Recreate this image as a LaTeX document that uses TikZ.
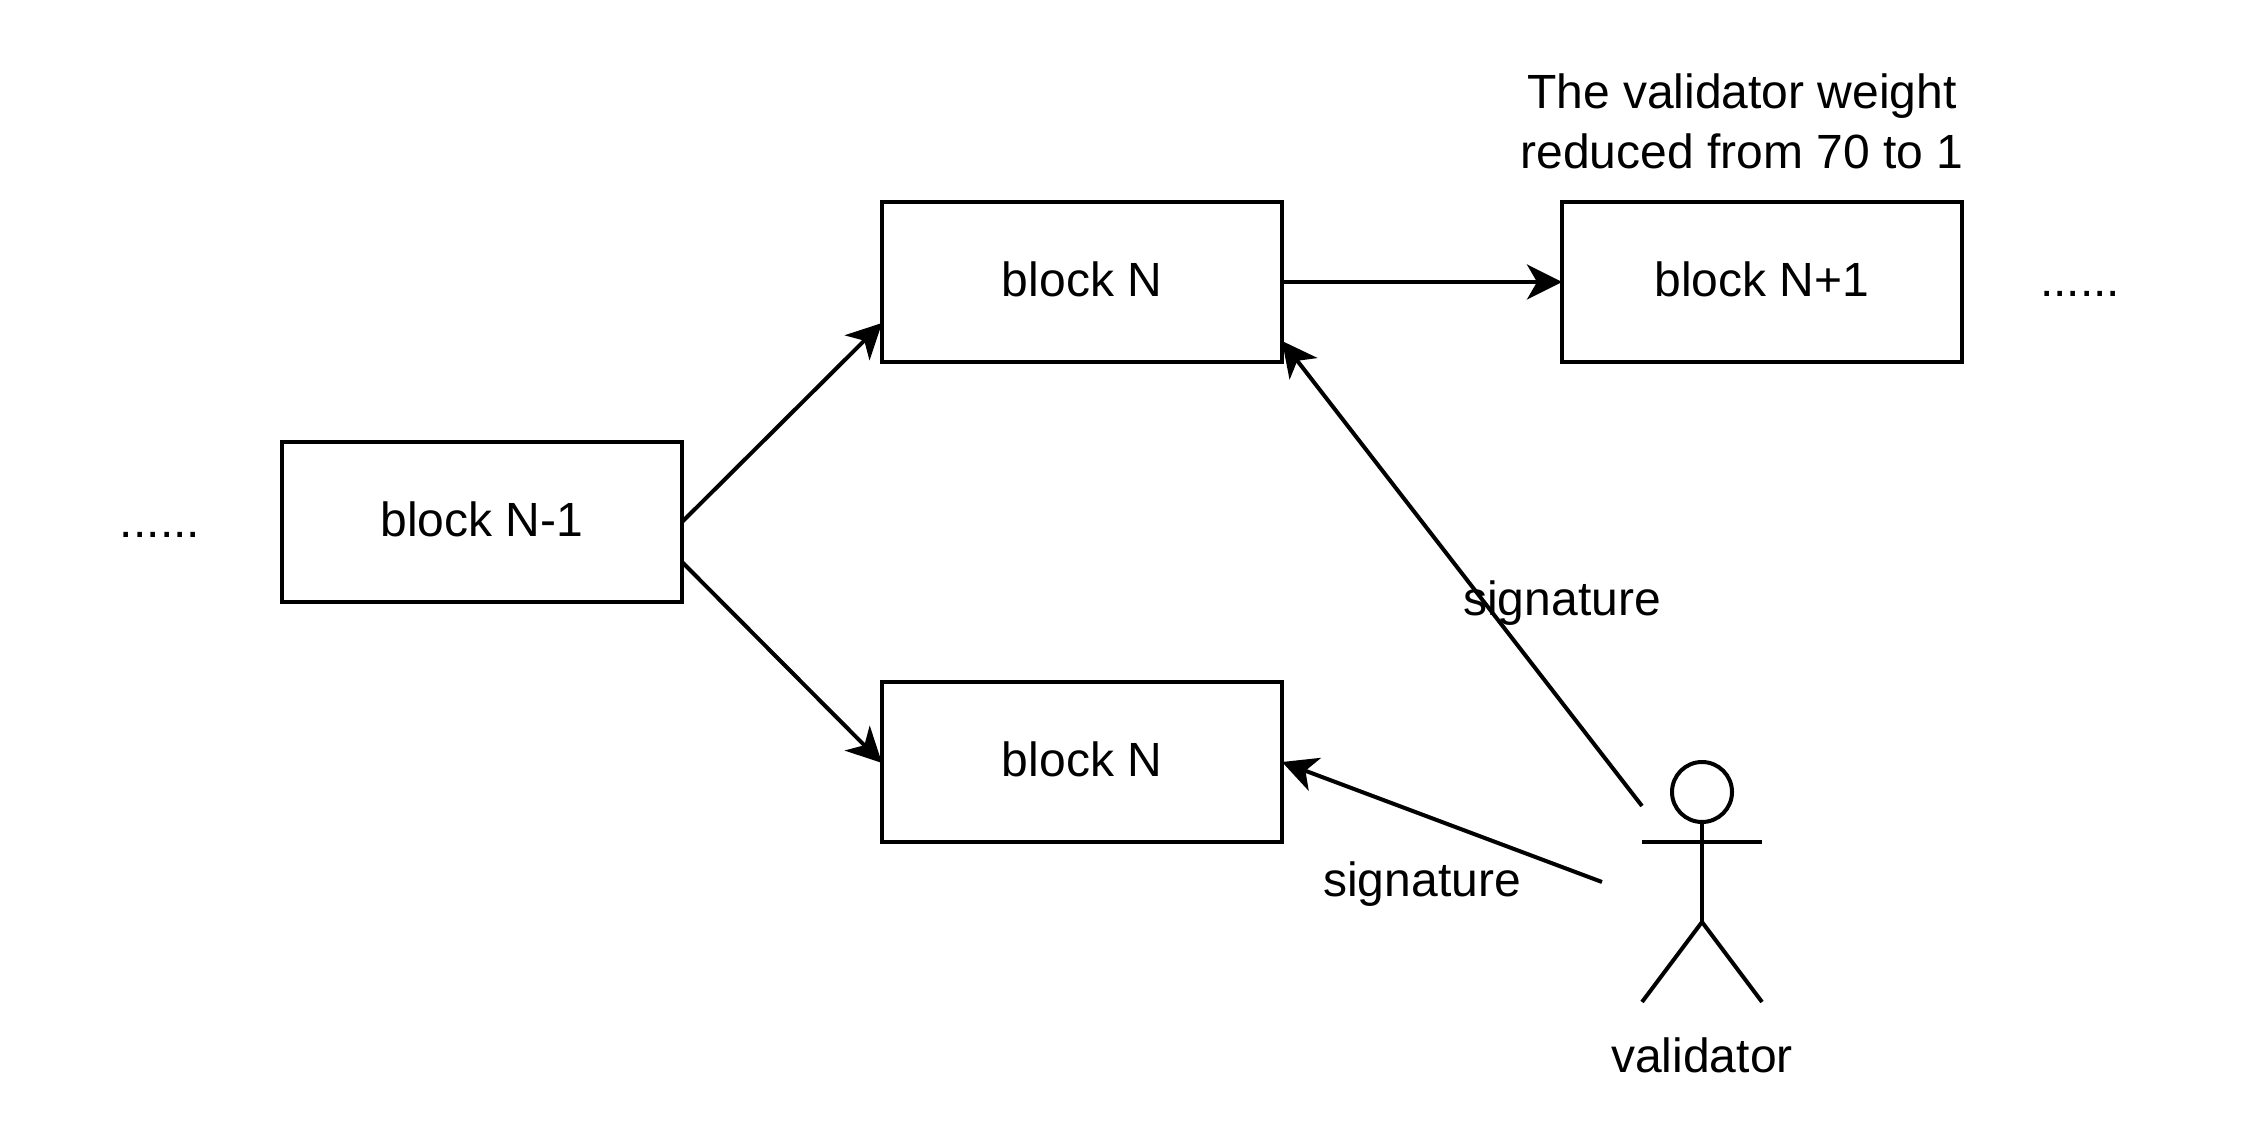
\documentclass[tikz,border=0pt]{standalone}
\usepackage{fontspec}
\setmainfont{Liberation Sans}
\usetikzlibrary{arrows.meta}
\tikzset{
  blockbox/.style={draw=black,line width=2pt,fill=white,minimum width=200pt,minimum height=80pt,inner sep=0pt,outer sep=0pt,text depth=3pt,font=\fontsize{24pt}{30pt}\selectfont},
  plain/.style={inner sep=0pt,outer sep=0pt,font=\fontsize{24pt}{30pt}\selectfont,align=center},
  link/.style={draw=black,line width=2pt,-{Stealth[length=17.5pt,width=17.5pt,inset=5pt]}},
  stick/.style={draw=black,line width=2pt},
}
\begin{document}
\begin{tikzpicture}[x=0.5pt,y=-0.5pt]
\path[use as bounding box,fill=white] (0,0) rectangle (2248,1128);
\node[blockbox] (prev) at (482,522) {block N-1};
\node[blockbox] (upper) at (1082,282) {block N};
\node[blockbox] (lower) at (1082,762) {block N};
\node[blockbox] (next) at (1762,282) {block N+1};
\node[plain,anchor=base] (dotsl) at (160,537) {......};
\node[plain,anchor=base] (dotsr) at (2080,297) {......};
\node[plain,anchor=base] (note) at (1742,169) {The validator weight\\reduced from 70 to 1};
\draw[link] (prev.east) -- ([yshift=-20.5pt]upper.west);
\draw[link] ([yshift=-20pt]prev.east) -- ([yshift=-0.5pt]lower.west);
\draw[link] (upper.east) -- (next.west);
% actor
\node[draw=black,line width=2pt,circle,minimum size=30pt,inner sep=0pt,outer sep=0pt,fill=white] (head) at (1702,792) {};
\coordinate (armL) at (1642,842);
\coordinate (armR) at (1762,842);
\coordinate (hip) at (1702,922);
\coordinate (footL) at (1642,1002);
\coordinate (footR) at (1762,1002);
\draw[stick] (head.south) -- (hip);
\draw[stick] (armL) -- (armR);
\draw[stick] (footL) -- (hip) -- (footR);
\node[plain,anchor=base] (who) at (1702,1072) {validator};
\coordinate (sigA) at (1642,806);
\coordinate (sigB) at (1602,882);
\draw[link] (sigA) -- ([yshift=10.5pt]upper.south east);
\draw[link] (sigB) -- (lower.east);
\node[plain,anchor=base] (labA) at (1562,615) {signature};
\node[plain,anchor=base] (labB) at (1422,896) {signature};
\end{tikzpicture}
\end{document}
